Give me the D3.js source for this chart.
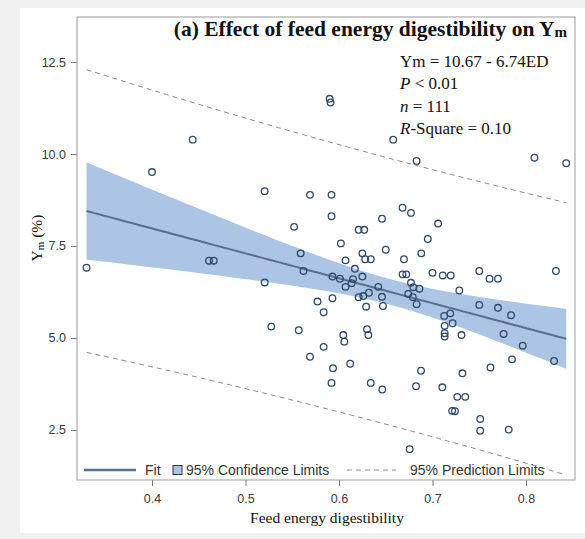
<!DOCTYPE html>
<html>
<head>
<meta charset="utf-8">
<script src="https://cdn.jsdelivr.net/npm/d3@7"></script>
<style>
  body { margin: 0; background: #f0f0f0; }
  .tick text { font-family: "Liberation Sans", Arial, sans-serif; font-size: 12.5px; fill: #3a3a3a; }
  .tick line { stroke: #777; }
  .serif { font-family: "Liberation Serif", "Times New Roman", serif; fill: #111; }
  .legend text { font-family: "Liberation Sans", Arial, sans-serif; font-size: 14px; fill: #333; }
</style>
</head>
<body>
<div id="chart"></div>
<script>
var svgWidth = 585;
var svgHeight = 539;

var margin = { top: 17, right: 10, bottom: 59, left: 77 };
var width = 498;
var height = 463;

// feed energy digestibility (x) and Ym % (y)
var edValues = [
  0.330, 0.400, 0.4435, 0.461, 0.466, 0.5205, 0.5205, 0.5276,
  0.590, 0.591, 0.658, 0.683, 0.809, 0.843,
  0.569, 0.592, 0.592, 0.552, 0.621, 0.627, 0.646, 0.668, 0.677, 0.695,
  0.602, 0.625, 0.650, 0.688, 0.559, 0.607, 0.628, 0.634, 0.6695, 0.700,
  0.562, 0.593, 0.601, 0.617, 0.615, 0.625, 0.607, 0.6135, 0.632, 0.642,
  0.668, 0.672, 0.677, 0.686, 0.6795, 0.674, 0.679, 0.683, 0.646, 0.621,
  0.626, 0.629, 0.647, 0.577, 0.593, 0.5836,
  0.706, 0.711, 0.7195, 0.750, 0.761, 0.770, 0.832, 0.7287, 0.750, 0.770,
  0.784, 0.7125, 0.719, 0.713, 0.7215, 0.713, 0.713, 0.731,
  0.776, 0.7965, 0.830, 0.785, 0.762, 0.732, 0.7105, 0.7265, 0.735, 0.721,
  0.724, 0.751, 0.751, 0.7815,
  0.557, 0.6046, 0.6057, 0.630, 0.6314, 0.5836, 0.569, 0.5936, 0.612, 0.592,
  0.634, 0.6463, 0.6877, 0.6824, 0.6756
];
var ymValues = [
  6.91, 9.51, 10.39, 7.10, 7.10, 8.99, 6.51, 5.31,
  11.50, 11.40, 10.39, 9.81, 9.90, 9.75,
  8.89, 8.89, 8.31, 8.02, 7.94, 7.94, 8.24, 8.54, 8.40, 7.69,
  7.57, 7.30, 7.40, 7.30, 7.30, 7.11, 7.14, 7.14, 7.14, 6.77,
  6.82, 6.67, 6.61, 6.88, 6.60, 6.67, 6.39, 6.49, 6.23, 6.39,
  6.73, 6.73, 6.50, 6.34, 6.38, 6.20, 6.11, 5.92, 6.12, 6.11,
  6.14, 5.85, 5.87, 5.99, 6.08, 5.70,
  8.11, 6.70, 6.70, 6.82, 6.61, 6.61, 6.82, 6.29, 5.90, 5.82,
  5.62, 5.60, 5.67, 5.33, 5.40, 5.13, 5.04, 5.08,
  5.11, 4.79, 4.375, 4.42, 4.20, 4.04, 3.66, 3.40, 3.40, 3.02,
  3.01, 2.80, 2.48, 2.51,
  5.21, 5.08, 4.90, 5.24, 5.08, 4.76, 4.49, 4.18, 4.30, 3.78,
  3.78, 3.60, 4.11, 3.69, 1.98
];

var xTicks = [0.4, 0.5, 0.6, 0.7, 0.8];
var yTicks = [2.5, 5.0, 7.5, 10.0, 12.5];
var statLines = ["Ym = 10.67 - 6.74ED", "P < 0.01", "n = 111", "R-Square = 0.10"];
var tCrit = 1.982; // t(0.975, df = 109)

var data = edValues.map((d, i) => ({ ed: d, ym: ymValues[i] }));

// least squares fit
var n = data.length;
var xbar = d3.mean(data, d => d.ed);
var ybar = d3.mean(data, d => d.ym);
var sxx = d3.sum(data, d => (d.ed - xbar) * (d.ed - xbar));
var sxy = d3.sum(data, d => (d.ed - xbar) * (d.ym - ybar));
var slope = sxy / sxx;
var intercept = ybar - slope * xbar;
var sse = d3.sum(data, d => Math.pow(d.ym - (intercept + slope * d.ed), 2));
var s = Math.sqrt(sse / (n - 2));

var xMin = d3.min(data, d => d.ed);
var xMax = d3.max(data, d => d.ed);
var bandRows = d3.range(0, 61).map(function(i) {
  var x = xMin + (xMax - xMin) * i / 60;
  var fit = intercept + slope * x;
  var h = 1 / n + (x - xbar) * (x - xbar) / sxx;
  return {
    x: x, fit: fit,
    cl: tCrit * s * Math.sqrt(h),
    pl: tCrit * s * Math.sqrt(1 + h)
  };
});

var svg = d3.select("#chart").append("svg")
  .attr("width", svgWidth)
  .attr("height", svgHeight);

svg.append("rect")
  .attr("x", 20).attr("y", 8)
  .attr("width", 565).attr("height", 525)
  .attr("fill", "#fff");

var chartGroup = svg.append("g")
  .attr("transform", `translate(${margin.left}, ${margin.top})`);

var xScale = d3.scaleLinear().domain([0.3198, 0.8524]).range([0, width]);
var yScale = d3.scaleLinear().domain([1.141, 13.723]).range([height, 0]);

// confidence band
chartGroup.append("path")
  .datum(bandRows)
  .attr("fill", "#adc5e4")
  .attr("d", d3.area()
    .x(d => xScale(d.x))
    .y0(d => yScale(d.fit - d.cl))
    .y1(d => yScale(d.fit + d.cl)));

// prediction limits
[1, -1].forEach(function(sign) {
  chartGroup.append("path")
    .datum(bandRows)
    .attr("fill", "none")
    .attr("stroke", "#8c8c8c")
    .attr("stroke-width", 1)
    .attr("stroke-dasharray", "5,4")
    .attr("d", d3.line()
      .x(d => xScale(d.x))
      .y(d => yScale(d.fit + sign * d.pl)));
});

// fit line
chartGroup.append("path")
  .datum(bandRows)
  .attr("fill", "none")
  .attr("stroke", "#5a6f90")
  .attr("stroke-width", 2)
  .attr("d", d3.line().x(d => xScale(d.x)).y(d => yScale(d.fit)));

// points
chartGroup.selectAll("circle")
  .data(data)
  .enter()
  .append("circle")
  .attr("cx", d => xScale(d.ed))
  .attr("cy", d => yScale(d.ym))
  .attr("r", 3.3)
  .attr("fill", "none")
  .attr("stroke", "#2e4868")
  .attr("stroke-width", 1.3);

// axes
var bottomAxis = d3.axisBottom(xScale).tickValues(xTicks).tickFormat(d3.format(".1f")).tickSize(6).tickPadding(8);
var leftAxis = d3.axisLeft(yScale).tickValues(yTicks).tickFormat(d3.format(".1f")).tickSize(6).tickPadding(5);

chartGroup.append("g")
  .attr("transform", `translate(0, ${height})`)
  .call(bottomAxis)
  .call(g => g.select(".domain").remove());

chartGroup.append("g")
  .call(leftAxis)
  .call(g => g.select(".domain").remove());

// frame
chartGroup.append("rect")
  .attr("width", width).attr("height", height)
  .attr("fill", "none")
  .attr("stroke", "#9a9a9a");

// legend
var legend = chartGroup.append("g").attr("class", "legend")
  .attr("transform", `translate(0, ${height - 10})`);
legend.append("line").attr("x1", 7).attr("x2", 59).attr("y1", 0).attr("y2", 0)
  .attr("stroke", "#5a6f90").attr("stroke-width", 2.5);
legend.append("text").attr("x", 68).attr("y", 5).text("Fit");
legend.append("rect").attr("x", 96).attr("y", -4.5).attr("width", 9).attr("height", 9)
  .attr("fill", "#adc5e4").attr("stroke", "#333").attr("stroke-width", 1);
legend.append("text").attr("x", 109).attr("y", 5).text("95% Confidence Limits");
legend.append("line").attr("x1", 270).attr("x2", 319).attr("y1", 0).attr("y2", 0)
  .attr("stroke", "#8c8c8c").attr("stroke-dasharray", "5,4");
legend.append("text").attr("x", 333).attr("y", 5).text("95% Prediction Limits");

// title
var title = chartGroup.append("text")
  .attr("class", "serif")
  .attr("x", width - 8).attr("y", 19)
  .attr("text-anchor", "end")
  .attr("font-size", "21.5px")
  .attr("font-weight", "bold");
title.append("tspan").text("(a) Effect of feed energy digestibility on Y");
title.append("tspan").attr("font-size", "15px").attr("dy", 1).text("m");

// regression stats
var stats = chartGroup.append("g").attr("class", "serif").attr("font-size", "17px");
statLines.forEach(function(line, i) {
  var t = stats.append("text").attr("x", 323).attr("y", 50 + i * 22.3);
  if (i === 0) {
    t.text(line);
  } else {
    var first = line.split(/[\s-]/)[0];
    t.append("tspan").attr("font-style", "italic").text(first);
    t.append("tspan").text(line.slice(first.length));
  }
});

// axis titles
svg.append("text")
  .attr("class", "serif")
  .attr("x", margin.left + width / 2 + 1).attr("y", 523)
  .attr("text-anchor", "middle")
  .attr("font-size", "15.5px")
  .text("Feed energy digestibility");

var yLabel = svg.append("text")
  .attr("class", "serif")
  .attr("transform", "translate(42, 238) rotate(-90)")
  .attr("text-anchor", "middle")
  .attr("font-size", "15.5px");
yLabel.append("tspan").text("Y");
yLabel.append("tspan").attr("font-size", "11px").attr("dy", 2).text("m");
yLabel.append("tspan").attr("dy", -2).text(" (%)");
</script>
</body>
</html>
